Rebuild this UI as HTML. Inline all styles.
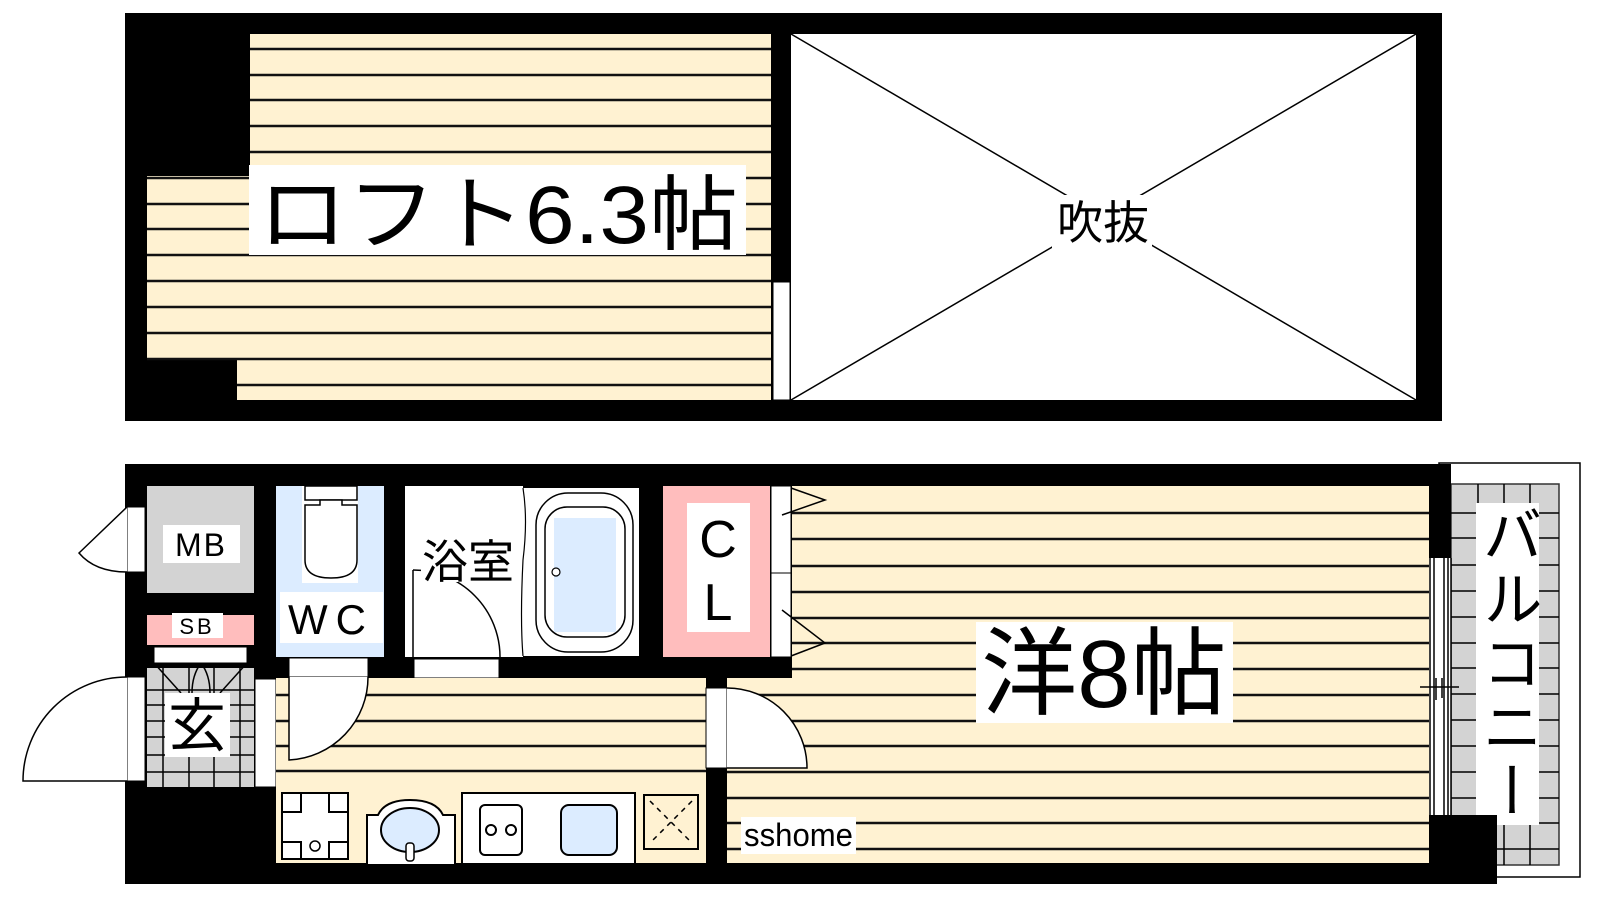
<!DOCTYPE html>
<html><head><meta charset="utf-8"><style>
html,body{margin:0;padding:0;background:#fff;width:1600px;height:900px;overflow:hidden}
svg{display:block}
text{font-family:"Liberation Sans","Noto Sans CJK JP",sans-serif;fill:#000}
</style></head><body>
<svg width="1600" height="900" viewBox="0 0 1600 900" xmlns="http://www.w3.org/2000/svg">
<!-- TOP -->
<rect x="125" y="13" width="1317" height="408" fill="#000"/>
<rect x="250" y="34" width="521" height="366" fill="#fff2d2"/>
<rect x="147" y="176" width="110" height="184" fill="#fff2d2"/>
<rect x="237" y="360" width="30" height="40" fill="#fff2d2"/>
<g stroke="#111" stroke-width="2.5">
<line x1="250" y1="49" x2="771" y2="49"/><line x1="250" y1="75" x2="771" y2="75"/>
<line x1="250" y1="100" x2="771" y2="100"/><line x1="250" y1="126" x2="771" y2="126"/>
<line x1="250" y1="152" x2="771" y2="152"/><line x1="147" y1="178" x2="771" y2="178"/>
<line x1="147" y1="204" x2="771" y2="204"/><line x1="147" y1="229" x2="771" y2="229"/>
<line x1="147" y1="255" x2="771" y2="255"/><line x1="147" y1="281" x2="771" y2="281"/>
<line x1="147" y1="307" x2="771" y2="307"/><line x1="147" y1="333" x2="771" y2="333"/>
<line x1="147" y1="359" x2="771" y2="359"/><line x1="237" y1="385" x2="771" y2="385"/>
</g>
<rect x="771" y="34" width="20" height="366" fill="#000"/>
<rect x="773" y="282" width="17" height="118" fill="#fff" stroke="#000" stroke-width="1"/>
<rect x="791" y="34" width="625" height="366" fill="#fff"/>
<line x1="791" y1="34" x2="1416" y2="400" stroke="#000" stroke-width="1.5"/>
<line x1="1416" y1="34" x2="791" y2="400" stroke="#000" stroke-width="1.5"/>
<rect x="1052" y="195" width="100" height="55" fill="#fff"/>
<text x="1103" y="239" font-size="46" text-anchor="middle">吹抜</text>
<rect x="249" y="165" width="497" height="90" fill="#fff"/>
<text x="258" y="243" font-size="82" textLength="480" lengthAdjust="spacingAndGlyphs">ロフト6.3帖</text>

<!-- BOTTOM -->
<rect x="1439" y="463" width="141" height="414" fill="#fff" stroke="#000" stroke-width="1.5"/>
<rect x="125" y="464" width="1325" height="420" fill="#000"/>
<!-- MB -->
<rect x="147" y="486" width="107" height="107" fill="#d3d3d3"/>
<rect x="163" y="525" width="77" height="38" fill="#fff"/>
<text x="201" y="556" font-size="32" text-anchor="middle" letter-spacing="2">MB</text>
<rect x="127" y="507" width="18" height="65" fill="#fff" stroke="#000" stroke-width="1"/>
<path d="M127,507 L79,553 Q95,572 127,572" fill="#fff" stroke="#000" stroke-width="1.5"/>
<!-- SB -->
<rect x="147" y="615" width="107" height="30" fill="#ffbdbd"/>
<rect x="172" y="613" width="51" height="25" fill="#fff"/>
<text x="197" y="634" font-size="22" text-anchor="middle" letter-spacing="3">SB</text>
<rect x="154" y="647" width="93" height="16" fill="#fff" stroke="#000" stroke-width="1"/>
<!-- Genkan -->
<rect x="147" y="668" width="107" height="119" fill="#d3d3d3"/>
<g stroke="#000" stroke-width="1.5">
<line x1="163" y1="668" x2="163" y2="787"/><line x1="189" y1="668" x2="189" y2="787"/>
<line x1="214" y1="668" x2="214" y2="787"/><line x1="240" y1="668" x2="240" y2="787"/>
<line x1="147" y1="690" x2="254" y2="690"/><line x1="147" y1="705" x2="254" y2="705"/>
<line x1="147" y1="721" x2="254" y2="721"/><line x1="147" y1="737" x2="254" y2="737"/>
<line x1="147" y1="755" x2="254" y2="755"/><line x1="147" y1="772" x2="254" y2="772"/>
</g>
<path d="M154,663 L181,693 M247,663 L220,693 M201,663 Q192,675 192,693 M201,663 Q210,675 210,693" fill="none" stroke="#000" stroke-width="1.5"/>
<rect x="165" y="693" width="65" height="64" fill="#fff"/>
<text x="197" y="746" font-size="58" text-anchor="middle">玄</text>
<rect x="127" y="677" width="18" height="104" fill="#fff" stroke="#000" stroke-width="1"/>
<path d="M127,677 A104,104 0 0 0 23,781 L127,781" fill="#fff" stroke="#000" stroke-width="1.5"/>
<rect x="255" y="679" width="21" height="108" fill="#fff" stroke="#000" stroke-width="1"/>
<!-- WC -->
<rect x="276" y="486" width="108" height="171" fill="#dcecff"/>
<rect x="302" y="486" width="56" height="97" fill="#fff"/>
<rect x="305" y="486" width="52" height="14" fill="#fff" stroke="#000" stroke-width="1.5"/>
<path d="M305,505 L305,560 Q305,578 331,578 Q357,578 357,560 L357,505 L342,505 L342,500 L320,500 L320,505 Z" fill="#fff" stroke="#000" stroke-width="1.5"/>
<rect x="280" y="592" width="103" height="51" fill="#fff"/>
<text x="331" y="634" font-size="42" text-anchor="middle" letter-spacing="8">WC</text>
<!-- Bath -->
<rect x="405" y="486" width="118" height="171" fill="#fff"/>
<rect x="523" y="488" width="116" height="168" fill="#fff"/>
<path d="M523,488 Q528,520 523,560 Q520,620 523,656" fill="none" stroke="#000" stroke-width="1.2"/>
<rect x="536" y="493" width="97" height="159" rx="32" fill="#fff" stroke="#000" stroke-width="1.5"/>
<rect x="545" y="507" width="80" height="130" rx="22" fill="#fff" stroke="#000" stroke-width="1.5"/>
<rect x="554" y="518" width="62" height="114" fill="#dcecff"/>
<circle cx="556" cy="572" r="4" fill="#fff" stroke="#000" stroke-width="1.2"/>
<line x1="413" y1="570" x2="413" y2="657" stroke="#000" stroke-width="1.5"/>
<path d="M413,570 A87,87 0 0 1 500,657" fill="none" stroke="#000" stroke-width="1.5"/>
<rect x="421" y="537" width="95" height="45" fill="#fff"/>
<text x="468" y="578" font-size="46" text-anchor="middle">浴室</text>
<!-- CL -->
<rect x="663" y="486" width="107" height="171" fill="#ffbdbd"/>
<rect x="687" y="503" width="63" height="129" fill="#fff"/>
<text x="718" y="557" font-size="52" text-anchor="middle">C</text>
<text x="718" y="620" font-size="52" text-anchor="middle">L</text>
<!-- black row -->
<rect x="254" y="657" width="538" height="21" fill="#000"/>
<rect x="289" y="658" width="79" height="19" fill="#fff" stroke="#000" stroke-width="1"/>
<rect x="414" y="659" width="85" height="19" fill="#fff" stroke="#000" stroke-width="1"/>
<!-- Kitchen -->
<rect x="276" y="678" width="430" height="185" fill="#fff2d2"/>
<g stroke="#111" stroke-width="2.5">
<line x1="276" y1="695" x2="706" y2="695"/><line x1="276" y1="721" x2="706" y2="721"/>
<line x1="276" y1="746" x2="706" y2="746"/><line x1="276" y1="771" x2="706" y2="771"/>
</g>
<path d="M289,677 L289,760 A83,83 0 0 0 368,677" fill="#fff" stroke="#000" stroke-width="1.5"/>
<!-- appliances -->
<rect x="282" y="793" width="66" height="66" fill="#fff" stroke="#000" stroke-width="2"/>
<path d="M282,812 H301 V793 M329,793 V812 H348 M282,842 H301 V859 M329,859 V842 H348" fill="none" stroke="#000" stroke-width="2"/>
<circle cx="315" cy="846" r="5" fill="#fff" stroke="#000" stroke-width="1.5"/>
<path d="M367,864 V815 H378 Q385,800 410,800 Q436,800 443,815 H455 V864" fill="#fff" stroke="#000" stroke-width="2"/>
<ellipse cx="410" cy="830" rx="29" ry="22" fill="#dcecff" stroke="#000" stroke-width="2"/>
<rect x="406" y="843" width="8" height="18" rx="3" fill="#fff" stroke="#000" stroke-width="1.5"/>
<rect x="462" y="793" width="173" height="71" fill="#fff" stroke="#000" stroke-width="2"/>
<rect x="480" y="805" width="42" height="50" rx="5" fill="#fff" stroke="#000" stroke-width="2"/>
<circle cx="491" cy="830" r="5" fill="none" stroke="#000" stroke-width="2"/>
<circle cx="511" cy="830" r="5" fill="none" stroke="#000" stroke-width="2"/>
<rect x="561" y="805" width="56" height="50" rx="8" fill="#dcecff" stroke="#000" stroke-width="2"/>
<rect x="644" y="795" width="54" height="54" fill="#fff2d2" stroke="#000" stroke-width="2"/>
<path d="M650,801 L692,843 M692,801 L650,843" stroke="#000" stroke-width="1.5" stroke-dasharray="5,5"/>
<!-- kitchen/main wall -->
<rect x="706" y="678" width="21" height="206" fill="#000"/>
<!-- Main room -->
<rect x="792" y="486" width="637" height="192" fill="#fff2d2"/>
<rect x="727" y="678" width="702" height="185" fill="#fff2d2"/>
<g stroke="#111" stroke-width="2.5">
<line x1="792" y1="513" x2="1429" y2="513"/><line x1="792" y1="539" x2="1429" y2="539"/>
<line x1="792" y1="566" x2="1429" y2="566"/><line x1="792" y1="592" x2="1429" y2="592"/>
<line x1="792" y1="618" x2="1429" y2="618"/><line x1="792" y1="643" x2="1429" y2="643"/>
<line x1="792" y1="669" x2="1429" y2="669"/><line x1="727" y1="695" x2="1429" y2="695"/>
<line x1="727" y1="721" x2="1429" y2="721"/><line x1="727" y1="746" x2="1429" y2="746"/>
<line x1="727" y1="772" x2="1429" y2="772"/><line x1="727" y1="798" x2="1429" y2="798"/>
<line x1="727" y1="823" x2="1429" y2="823"/><line x1="727" y1="849" x2="1429" y2="849"/>
</g>
<rect x="706" y="688" width="21" height="80" fill="#fff" stroke="#000" stroke-width="1"/>
<path d="M727,688 A80,80 0 0 1 807,768 L727,768" fill="#fff" stroke="#000" stroke-width="1.5"/>
<!-- CL doors -->
<rect x="771" y="486" width="20" height="87" fill="#fff" stroke="#000" stroke-width="1"/>
<rect x="771" y="573" width="20" height="84" fill="#fff" stroke="#000" stroke-width="1"/>
<path d="M791,488 L825,500 L782,515 M782,610 L825,643 L791,656" fill="none" stroke="#000" stroke-width="1.5"/>
<rect x="976" y="622" width="257" height="101" fill="#fff"/>
<text x="1104" y="707" font-size="96" text-anchor="middle">洋8帖</text>
<rect x="741" y="817" width="115" height="37" fill="#fff"/>
<text x="744" y="846" font-size="32" textLength="109" lengthAdjust="spacingAndGlyphs">sshome</text>
<!-- Balcony -->
<rect x="1451" y="484" width="108" height="381" fill="#d3d3d3" stroke="#333" stroke-width="1.5"/>
<g stroke="#000" stroke-width="1.5">
<line x1="1478" y1="484" x2="1478" y2="865"/><line x1="1504" y1="484" x2="1504" y2="865"/><line x1="1530" y1="484" x2="1530" y2="865"/>
<line x1="1451" y1="513" x2="1559" y2="513"/><line x1="1451" y1="538" x2="1559" y2="538"/>
<line x1="1451" y1="565" x2="1559" y2="565"/><line x1="1451" y1="591" x2="1559" y2="591"/>
<line x1="1451" y1="617" x2="1559" y2="617"/><line x1="1451" y1="643" x2="1559" y2="643"/>
<line x1="1451" y1="668" x2="1559" y2="668"/><line x1="1451" y1="694" x2="1559" y2="694"/>
<line x1="1451" y1="720" x2="1559" y2="720"/><line x1="1451" y1="746" x2="1559" y2="746"/>
<line x1="1451" y1="772" x2="1559" y2="772"/><line x1="1451" y1="798" x2="1559" y2="798"/>
<line x1="1451" y1="823" x2="1559" y2="823"/><line x1="1451" y1="849" x2="1559" y2="849"/>
</g>
<rect x="1476" y="503" width="63" height="322" fill="#fff"/>
<!-- right wall -->
<rect x="1429" y="464" width="22" height="94" fill="#000"/>
<rect x="1429" y="558" width="22" height="257" fill="#fff"/>
<g stroke="#000" stroke-width="1.5">
<line x1="1430" y1="558" x2="1430" y2="815"/><line x1="1434" y1="558" x2="1434" y2="815"/>
<line x1="1444" y1="558" x2="1444" y2="815"/><line x1="1448" y1="558" x2="1448" y2="815"/>
<line x1="1451" y1="558" x2="1451" y2="815"/>
<line x1="1420" y1="687" x2="1459" y2="687"/>
<line x1="1436" y1="678" x2="1436" y2="700"/><line x1="1442" y1="678" x2="1442" y2="698"/>
</g>
<rect x="1429" y="815" width="68" height="69" fill="#000"/>
</svg>
<div style="position:absolute;left:1476px;top:503px;width:63px;height:322px;writing-mode:vertical-rl;font-family:'Liberation Sans','Noto Sans CJK JP',sans-serif;font-size:60px;line-height:63px;text-align:center;letter-spacing:4px">バルコニー</div>
</body></html>
